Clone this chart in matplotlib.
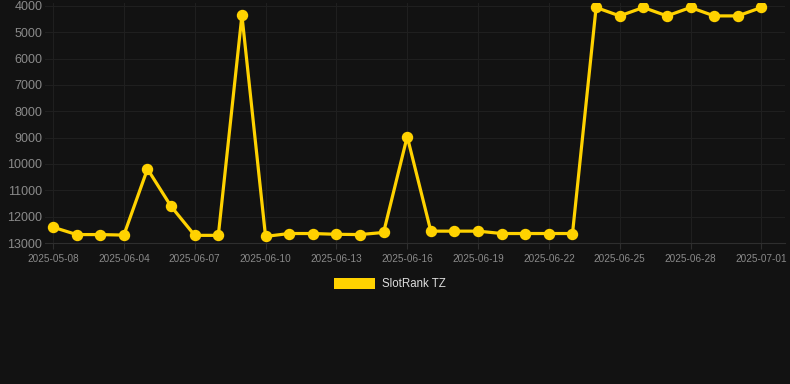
import matplotlib.pyplot as plt
from matplotlib.patches import Patch

plt.rcParams['font.family'] = ['Liberation Sans', 'DejaVu Sans']

fechas = ['2025-05-08', '2025-06-02', '2025-06-03', '2025-06-04', '2025-06-05',
          '2025-06-06', '2025-06-07', '2025-06-08', '2025-06-09', '2025-06-10',
          '2025-06-11', '2025-06-12', '2025-06-13', '2025-06-14', '2025-06-15',
          '2025-06-16', '2025-06-17', '2025-06-18', '2025-06-19', '2025-06-20',
          '2025-06-21', '2025-06-22', '2025-06-23', '2025-06-24', '2025-06-25',
          '2025-06-26', '2025-06-27', '2025-06-28', '2025-06-29', '2025-06-30',
          '2025-07-01']
ranking = [12400, 12680, 12680, 12700, 10190, 11610, 12710, 12710, 4360, 12750,
           12640, 12640, 12670, 12680, 12600, 8960, 12550, 12550, 12550, 12640,
           12640, 12640, 12640, 4060, 4380, 4060, 4380, 4060, 4380, 4380, 4060]
y_ticks = [4000, 5000, 6000, 7000, 8000, 9000, 10000, 11000, 12000, 13000]

fondo = '#121212'
amarillo = '#ffd200'

fig = plt.figure(figsize=(7.9, 3.84), dpi=100, facecolor=fondo)
ax = fig.add_axes([45 / 790, 1 - 243 / 384, 740 / 790, 240 / 384])
ax.set_facecolor(fondo)

x = list(range(len(fechas)))
ax.plot(x, ranking, color=amarillo, linewidth=2.3, marker='o', markersize=7.2,
        solid_joinstyle='miter', zorder=3)

ax.set_ylim(13000, 3890)
ax.set_xlim(-0.34, 31.0)
ax.set_yticks(y_ticks)
ax.set_yticklabels([str(v) for v in y_ticks])
ax.set_xticks(x[::3])
ax.set_xticklabels(fechas[::3])

ax.grid(True, color='#1f1f1f', linewidth=0.8)
for lado in ['top', 'right', 'left']:
    ax.spines[lado].set_visible(False)
ax.spines['bottom'].set_color('#2e2e2e')
ax.tick_params(axis='y', length=0, labelsize=9, labelcolor='#8a8a8a', pad=2)
ax.tick_params(axis='x', length=4, color='#2e2e2e', labelsize=7.2,
               labelcolor='#8a8a8a', pad=4)

fig.legend(handles=[Patch(facecolor=amarillo, label='SlotRank TZ')],
           loc='center', bbox_to_anchor=(390 / 790, 1 - 284 / 384),
           frameon=False, fontsize=8.3, labelcolor='#dddddd',
           handlelength=3.5, handleheight=1.1, handletextpad=0.6)

fig.savefig('out.png', dpi=100, facecolor=fondo)
